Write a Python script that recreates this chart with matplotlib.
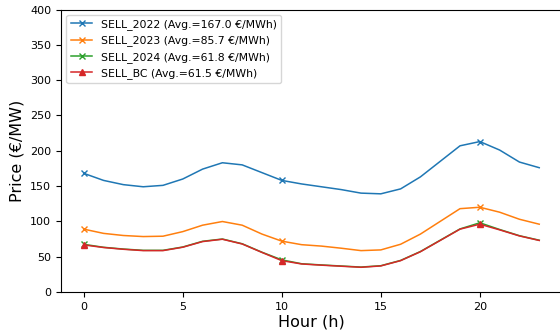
import matplotlib
matplotlib.use('Agg')
import matplotlib.pyplot as plt

hours = list(range(24))

sell_2022 = [168, 158, 152, 149, 151, 160, 174, 183, 180, 169, 158, 153,
             149, 145, 140, 139, 146, 163, 185, 207, 213, 201, 184, 176]
sell_2023 = [89, 83, 80, 78.5, 79, 85.5, 94.6, 99.8, 94.6, 82, 72, 67,
             65, 62, 58.6, 59.6, 67.6, 82, 100, 118, 120, 113, 103, 96]
sell_2024 = [67.5, 63.3, 60.8, 59, 59, 63.7, 71.8, 75, 68.3, 56.3, 45.5, 40,
             38.3, 36.8, 35.3, 37.2, 44.7, 57.3, 73.3, 89.3, 98, 88.5, 79.7, 73.3]
sell_bc = [66.7, 63, 60.5, 58.6, 58.6, 63.4, 71.4, 74.7, 68, 56, 44.4, 39.7,
           38, 36.5, 35, 36.9, 44.4, 57, 73, 89, 96, 88, 79.4, 73]

series = [
    ('SELL_2022', sell_2022, 167.0, 'x', '#1f77b4'),
    ('SELL_2023', sell_2023, 85.7, 'x', '#ff7f0e'),
    ('SELL_2024', sell_2024, 61.8, 'x', '#2ca02c'),
    ('SELL_BC', sell_bc, 61.5, '^', '#d62728'),
]

fig = plt.figure(figsize=(5.6, 3.31), dpi=100)
ax = fig.add_axes([61 / 560, 39 / 331, 501 / 560, 282.5 / 331])

for name, vals, avg, marker, color in series:
    ax.plot(hours, vals, marker=marker, markevery=10, markersize=4, linewidth=1.1,
            color=color, label=f'{name} (Avg.={avg:.1f} €/MWh)')

ax.set_ylim(0, 400)
ax.set_xticks([0, 5, 10, 15, 20])
ax.tick_params(labelsize=8)
ax.set_xlabel('Hour (h)', fontsize=11.5, labelpad=2)
ax.set_ylabel('Price (€/MW)', fontsize=11.5)
ax.legend(loc='upper left', fontsize=7.8)

fig.savefig('out.png', dpi=100)
